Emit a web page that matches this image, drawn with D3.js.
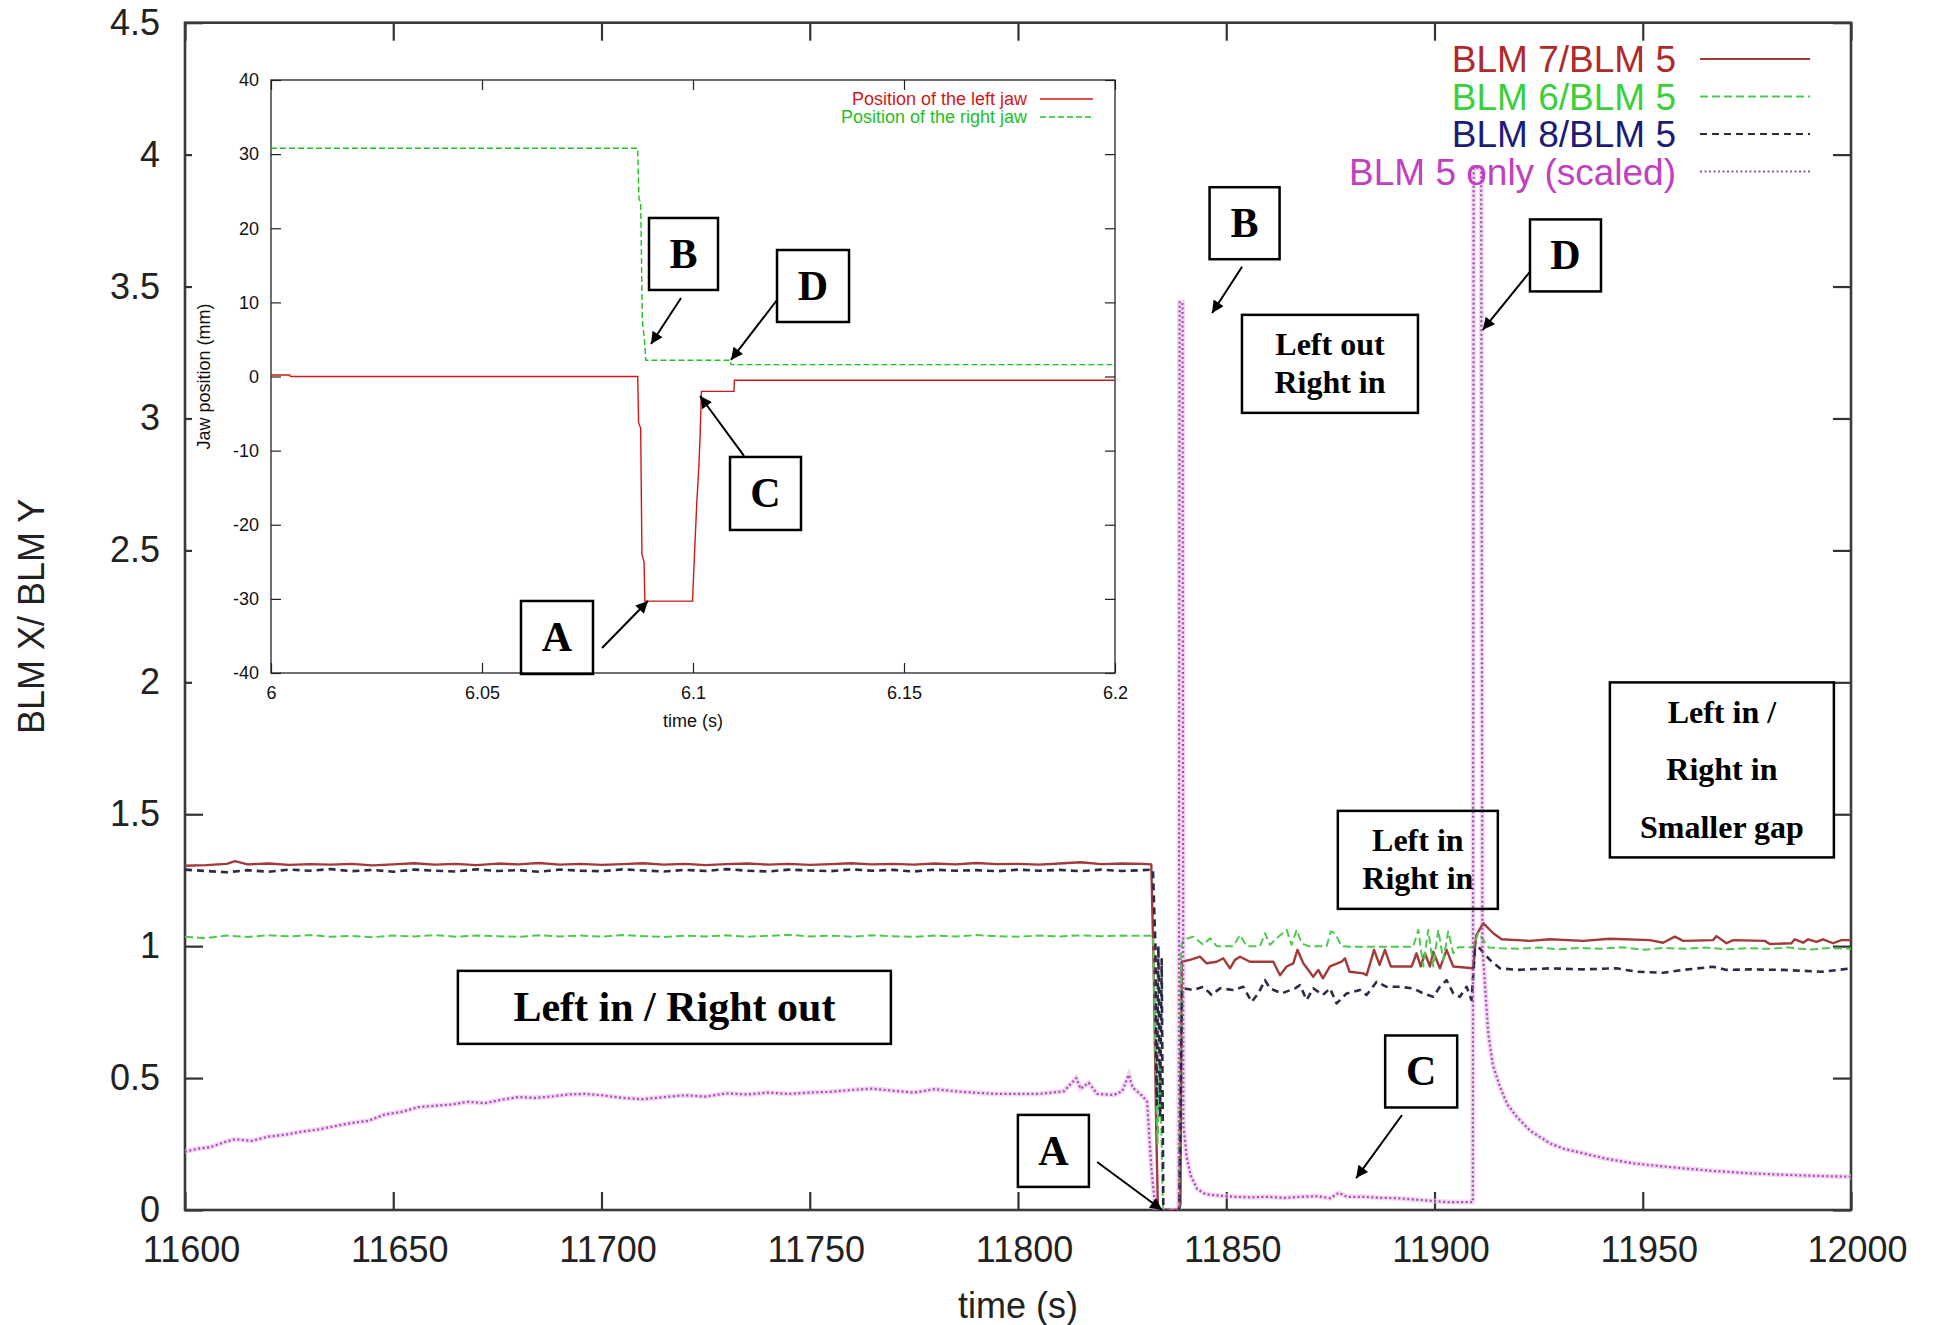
<!DOCTYPE html>
<html>
<head>
<meta charset="utf-8">
<script src="https://cdn.jsdelivr.net/npm/d3@7"></script>
<style>
  body { margin: 0; background: #fff; }
  svg { display: block; }
</style>
</head>
<body>
<div id="chart"></div>
<script>
// ---- main chart: ratios of beam loss monitors vs time (s) ----
var xTicks = [11600, 11650, 11700, 11750, 11800, 11850, 11900, 11950, 12000];
var yTicks = [0, 0.5, 1, 1.5, 2, 2.5, 3, 3.5, 4, 4.5];
var yTickLabels = ["0", "0.5", "1", "1.5", "2", "2.5", "3", "3.5", "4", "4.5"];

var blm7 = [[11600,1.305],[11605,1.307],[11610,1.312],[11612,1.322],[11615,1.31],[11620,1.313],[11625,1.308],[11630,1.311],[11635,1.309],[11640,1.312],[11645,1.306],[11650,1.31],[11655,1.314],[11660,1.309],[11665,1.312],[11670,1.307],[11675,1.313],[11680,1.31],[11685,1.315],[11690,1.309],[11695,1.312],[11700,1.308],[11705,1.311],[11710,1.314],[11715,1.309],[11720,1.312],[11725,1.307],[11730,1.311],[11735,1.313],[11740,1.309],[11745,1.312],[11750,1.308],[11755,1.311],[11760,1.314],[11765,1.31],[11770,1.312],[11775,1.309],[11780,1.313],[11785,1.31],[11790,1.315],[11795,1.311],[11800,1.312],[11805,1.309],[11810,1.313],[11815,1.318],[11820,1.311],[11825,1.313],[11830,1.312],[11832,1.31],[11832.6,0.9],[11833.2,0.3],[11833.6,0],[11838.6,0],[11839,0.02],[11839.3,0.941],
  [11841.3,0.948],[11843.7,0.96],[11845.3,0.935],[11847.7,0.941],[11849.3,0.954],[11850.9,0.916],[11852.1,0.948],[11853.3,0.96],[11855.7,0.941],[11861.3,0.941],[11862.9,0.89],[11864.5,0.923],[11866.1,0.935],[11867.1,0.986],[11868.5,0.935],[11870.9,0.884],[11872.1,0.91],[11873.2,0.878],[11874.9,0.923],[11877.7,0.941],[11878.5,0.954],[11879.6,0.903],[11882.9,0.897],[11883.7,0.89],[11885.5,0.986],[11886.8,0.929],[11888.1,0.986],[11889.5,0.923],[11894.5,0.923],[11895.7,0.973],[11896.7,0.923],[11897.7,0.973],[11898.9,0.923],[11899.7,0.979],[11901.3,0.916],[11902.9,0.986],[11904.5,0.923],[11909.3,0.916],[11910,1.04],
  [11911.7,1.087],[11914.1,1.049],[11916.1,1.026],[11922.9,1.02],[11927.7,1.026],[11935.7,1.02],[11942.1,1.028],[11951.7,1.023],[11954.9,1.013],[11957.7,1.036],[11959.7,1.02],[11966.9,1.023],[11967.7,1.038],[11970.1,1.011],[11971.7,1.023],[11979.3,1.02],[11980.5,1.008],[11985.7,1.011],[11986.5,1.026],[11988.5,1.013],[11989.7,1.026],[11991.7,1.016],[11993.3,1.026],[11995.7,1.011],[11997.7,1.023],[12000,1.023]];

var blm6 = [[11600,1.036],[11605,1.03],[11610,1.04],[11615,1.035],[11620,1.041],[11625,1.037],[11630,1.042],[11635,1.036],[11640,1.039],[11645,1.034],[11650,1.04],[11655,1.037],[11660,1.042],[11665,1.036],[11670,1.04],[11675,1.038],[11680,1.035],[11685,1.041],[11690,1.037],[11695,1.04],[11700,1.036],[11705,1.042],[11710,1.038],[11715,1.035],[11720,1.04],[11725,1.037],[11730,1.041],[11735,1.036],[11740,1.039],[11745,1.043],[11750,1.037],[11755,1.04],[11760,1.036],[11765,1.041],[11770,1.038],[11775,1.035],[11780,1.04],[11785,1.037],[11790,1.042],[11795,1.038],[11800,1.036],[11805,1.04],[11810,1.037],[11815,1.041],[11820,1.038],[11825,1.04],[11830,1.039],[11832.4,1.04],[11833,0.6],[11833.5,0.25],[11834.1,0.55],[11834.8,0],[11838.6,0],[11839.2,1.0],
  [11839.7,1.024],[11842.1,1.036],[11844.5,1.005],[11846.1,1.03],[11847.7,1.0],[11851.7,1.0],[11853.3,1.042],[11854.9,1.0],[11858.1,1.0],[11859.3,1.049],[11860.5,1.005],[11862.1,1.03],[11864.5,1.062],[11865.7,1.005],[11866.9,1.062],[11868.1,1.011],[11869.7,1.0],[11874.1,1.0],[11875.1,1.056],[11876.1,1.049],[11877.7,1.0],[11879.7,0.998],[11894.9,0.998],[11896.1,1.062],[11897.3,0.923],[11898.5,1.062],[11899.7,0.923],[11900.9,1.062],[11902.1,0.948],[11903.3,1.056],[11904.5,0.973],[11905.7,0.996],[11909.3,0.996],[11910.5,1.05],[11913,0.995],
  [11916,0.992],[11920,0.99],[11925,0.995],[11930,0.988],[11935,0.993],[11940,0.99],[11945,0.996],[11950,0.986],[11955,0.993],[11960,0.99],[11965,0.995],[11970,0.988],[11975,0.992],[11980,0.99],[11985,0.995],[11990,0.987],[11995,0.993],[12000,0.99]];

var blm8 = [[11600,1.29],[11605,1.285],[11610,1.28],[11615,1.288],[11620,1.282],[11625,1.29],[11630,1.286],[11635,1.292],[11640,1.284],[11645,1.289],[11650,1.282],[11655,1.29],[11660,1.286],[11665,1.283],[11670,1.291],[11675,1.285],[11680,1.288],[11685,1.282],[11690,1.29],[11695,1.286],[11700,1.284],[11705,1.291],[11710,1.287],[11715,1.283],[11720,1.289],[11725,1.285],[11730,1.292],[11735,1.286],[11740,1.283],[11745,1.29],[11750,1.287],[11755,1.284],[11760,1.291],[11765,1.286],[11770,1.289],[11775,1.283],[11780,1.29],[11785,1.286],[11790,1.288],[11795,1.284],[11800,1.29],[11805,1.286],[11810,1.289],[11815,1.284],[11820,1.29],[11825,1.285],[11830,1.288],[11832.4,1.29],[11833,1.0],[11833.3,0.4],[11833.7,1.0],[11834.1,0.35],[11834.5,0.95],[11834.9,0],[11838.7,0],[11839.4,0.84],
  [11839.7,0.84],[11842.1,0.834],[11844.5,0.846],[11846.5,0.815],[11848.5,0.84],[11851.7,0.834],[11854.1,0.846],[11856.1,0.789],[11857.7,0.821],[11859.3,0.871],[11860.5,0.84],[11863.3,0.821],[11866.5,0.84],[11867.7,0.852],[11869.3,0.796],[11870.9,0.84],[11873.2,0.815],[11874.9,0.84],[11876.5,0.783],[11878.9,0.821],[11882.1,0.834],[11883.7,0.815],[11886.1,0.865],[11888.5,0.846],[11891.7,0.846],[11894.9,0.84],[11897.3,0.821],[11899.7,0.808],[11901.3,0.846],[11902.9,0.871],[11904.5,0.821],[11906.1,0.808],[11907.7,0.846],[11908.9,0.796],[11909.7,0.986],[11910.5,0.998],
  [11913.3,0.948],[11915.7,0.916],[11919.7,0.91],[11927.7,0.916],[11935.7,0.912],[11943.7,0.916],[11948.5,0.903],[11954.9,0.899],[11959.7,0.91],[11966.9,0.922],[11970.1,0.91],[11975.7,0.912],[11983.7,0.91],[11993.3,0.903],[12000,0.916]];

var blm5 = [[11600,0.221],[11603,0.232],[11606,0.238],[11610,0.26],[11612,0.268],[11616,0.262],[11620,0.278],[11624,0.285],[11628,0.297],[11632,0.305],[11636,0.318],[11640,0.33],[11644,0.338],[11648,0.362],[11652,0.372],[11656,0.39],[11660,0.395],[11664,0.4],[11668,0.41],[11672,0.405],[11676,0.418],[11680,0.428],[11684,0.425],[11688,0.43],[11692,0.438],[11696,0.44],[11700,0.435],[11705,0.425],[11710,0.42],[11715,0.428],[11720,0.435],[11725,0.43],[11730,0.442],[11735,0.438],[11740,0.445],[11745,0.44],[11750,0.445],[11755,0.448],[11760,0.455],[11765,0.46],[11770,0.452],[11775,0.445],[11780,0.458],[11785,0.45],[11790,0.444],[11795,0.44],[11800,0.44],[11805,0.44],[11808,0.445],[11811,0.45],[11814,0.5],[11815,0.46],[11817,0.482],[11819,0.44],[11823,0.436],[11825,0.45],[11826.6,0.512],[11827.5,0.465],[11830,0.43],[11831,0.41],[11832,0.164],[11833,0],
  [11838.6,0],[11838.8,3.44],[11839.5,3.44],[11839.7,0.32],[11840.5,0.2],[11841.5,0.13],[11843,0.08],[11845,0.06],[11848,0.055],[11852,0.05],[11856,0.048],[11860,0.05],[11864,0.046],[11868,0.05],[11872,0.052],[11875,0.045],[11877,0.065],[11879,0.05],[11883,0.05],[11887,0.046],[11891,0.045],[11895,0.04],[11899,0.035],[11903,0.03],[11907,0.03],[11909.2,0.03],
  [11909.4,3.95],[11911.2,3.95],[11911.5,1.0],[11912.9,0.67],[11914,0.55],[11915.7,0.467],[11917.5,0.4],[11919.7,0.354],[11923,0.3],[11927.7,0.253],[11931,0.232],[11935.7,0.215],[11941,0.195],[11947.7,0.177],[11953,0.168],[11959.7,0.158],[11967,0.148],[11975.7,0.139],[11983,0.134],[11990,0.13],[11995,0.128],[12000,0.126]];

var seriesNames = ["BLM 7/BLM 5", "BLM 6/BLM 5", "BLM 8/BLM 5", "BLM 5 only (scaled)"];

// ---- inset: jaw positions (mm) vs time (s) ----
var insetXTicks  = [6, 6.05, 6.1, 6.15, 6.2];
var insetXLabels = ["6", "6.05", "6.1", "6.15", "6.2"];
var insetYTicks  = [-40, -30, -20, -10, 0, 10, 20, 30, 40];
var insetYLabels = ["-40", "-30", "-20", "-10", "0", "10", "20", "30", "40"];

var leftJaw = [[6,0.2],[6.0044,0.2],[6.0046,0],[6.0869,0],[6.0871,-6.2],[6.0876,-7],[6.0879,-24],[6.0884,-25],[6.0886,-30.3],[6.0999,-30.3],[6.1002,-26],[6.1009,-17],[6.1014,-12],[6.1017,-7.7],[6.102,-2.0],[6.1097,-2.0],[6.1098,-0.5],[6.2,-0.5]];
var rightJaw = [[6,30.8],[6.0869,30.8],[6.0872,24],[6.0876,23.5],[6.088,7.5],[6.0885,5],[6.0888,2.2],[6.1089,2.2],[6.109,1.6],[6.2,1.6]];
var jawNames = ["Position of the left jaw", "Position of the right jaw"];

// ---- annotations (positions in data units of each chart) ----
var mainNotes = [
  {t: 11854.4, v: 3.74,  w: 70,  h: 72,  lines: ["B"], size: 42},
  {t: 11931.45, v: 3.618, w: 71, h: 72,  lines: ["D"], size: 42},
  {t: 11896.8, v: 0.525, w: 72,  h: 72,  lines: ["C"], size: 42},
  {t: 11808.5, v: 0.224, w: 71,  h: 72,  lines: ["A"], size: 42},
  {t: 11874.9, v: 3.207, w: 176, h: 98,  lines: ["Left out", "Right in"], size: 32, lh: 38},
  {t: 11896.0, v: 1.327, w: 160, h: 98,  lines: ["Left in", "Right in"], size: 32, lh: 38},
  {t: 11969.0, v: 1.668, w: 224, h: 175, lines: ["Left in /", "Right in", "Smaller gap"], size: 32, lh: 57.6},
  {t: 11717.5, v: 0.768, w: 433, h: 73,  lines: ["Left in / Right out"], size: 42}
];
var mainArrows = [
  [11853.8, 3.575, 11846.6, 3.400],
  [11922.9, 3.556, 11911.6, 3.336],
  [11892.2, 0.360, 11881.2, 0.121],
  [11819.0, 0.182, 11834.6, 0.0]
];
var insetNotes = [
  {t: 6.09775, v: 16.53,  w: 69, h: 72, lines: ["B"], size: 42},
  {t: 6.12844, v: 12.21,  w: 72, h: 72, lines: ["D"], size: 42},
  {t: 6.11718, v: -15.78, w: 71, h: 73, lines: ["C"], size: 42},
  {t: 6.06777, v: -35.21, w: 72, h: 73, lines: ["A"], size: 42}
];
var insetArrows = [
  [6.09716, 10.59, 6.09005, 4.38],
  [6.11991, 10.32, 6.10900, 2.23],
  [6.11209, -10.72, 6.10166, -2.63],
  [6.07844, -36.63, 6.08934, -30.29]
];

var styles = [
  {color: "#a33a3a", text: "#b02a2a", width: 2.4, dash: null},
  {color: "#4ec94e", text: "#3ad03a", width: 2.0, dash: "8,4"},
  {color: "#2b2b45", text: "#1c1c78", width: 2.6, dash: "7,5"},
  {color: "#a04fae", text: "#c040c0", width: 2.2, dash: "2,2.5"}
];

var W = 1934, H = 1325;
var sansFont = '"Liberation Sans", Arial, Helvetica, sans-serif';
var serifFont = '"Liberation Serif", "Times New Roman", serif';

var svg = d3.select("#chart").append("svg").attr("width", W).attr("height", H);
svg.append("rect").attr("width", W).attr("height", H).attr("fill", "#fff");

var defs = svg.append("defs");
defs.append("marker").attr("id", "arrow")
  .attr("viewBox", "0 0 10 10").attr("refX", 10).attr("refY", 5)
  .attr("markerWidth", 16).attr("markerHeight", 12)
  .attr("markerUnits", "userSpaceOnUse").attr("orient", "auto")
  .append("path").attr("d", "M0,0 L10,5 L0,10 z").attr("fill", "#000");

// main scales
var plot = {left: 185, right: 1851, top: 22.7, bottom: 1210};
var x = d3.scaleLinear().domain([11600, 12000]).range([plot.left, plot.right]);
var y = d3.scaleLinear().domain([0, 4.5]).range([plot.bottom, plot.top]);

defs.append("clipPath").attr("id", "mainClip").append("rect")
  .attr("x", plot.left).attr("y", plot.top)
  .attr("width", plot.right - plot.left).attr("height", plot.bottom - plot.top);

function styleAxis(g, size, color) {
  g.select(".domain").remove();
  g.attr("font-size", size).attr("font-family", sansFont);
  g.selectAll("line").attr("stroke", "#333").attr("stroke-width", 2.2);
  g.selectAll("text").attr("fill", color);
}

// main axes (gnuplot style, inward ticks on all sides)
var gx = svg.append("g").attr("transform", "translate(0," + plot.bottom + ")")
  .call(d3.axisBottom(x).tickValues(xTicks).tickFormat(d3.format("d")).tickSize(-18).tickPadding(26));
styleAxis(gx, 36, "#222");
gx.selectAll("text").attr("dx", 6);

var gy = svg.append("g").attr("transform", "translate(" + plot.left + ",0)")
  .call(d3.axisLeft(y).tickValues(yTicks).tickFormat(function(d, i) { return yTickLabels[i]; }).tickSize(-18).tickPadding(25));
styleAxis(gy, 36, "#222");

var gt = svg.append("g").attr("transform", "translate(0," + plot.top + ")")
  .call(d3.axisTop(x).tickValues(xTicks).tickFormat("").tickSize(-18));
styleAxis(gt, 36, "#222");
var gr = svg.append("g").attr("transform", "translate(" + plot.right + ",0)")
  .call(d3.axisRight(y).tickValues(yTicks).tickFormat("").tickSize(-18));
styleAxis(gr, 36, "#222");

svg.append("rect")
  .attr("x", plot.left).attr("y", plot.top)
  .attr("width", plot.right - plot.left).attr("height", plot.bottom - plot.top)
  .attr("fill", "none").attr("stroke", "#3a3a3a").attr("stroke-width", 2.6);

svg.append("text")
  .attr("x", (plot.left + plot.right) / 2).attr("y", 1318)
  .attr("text-anchor", "middle").attr("font-family", sansFont).attr("font-size", 36).attr("fill", "#222")
  .text("time (s)");
svg.append("text")
  .attr("transform", "translate(44," + ((plot.top + plot.bottom) / 2) + ") rotate(-90)")
  .attr("text-anchor", "middle").attr("font-family", sansFont).attr("font-size", 36).attr("fill", "#222")
  .text("BLM X/ BLM Y");

// main series
var mainLine = d3.line().x(function(d) { return x(d[0]); }).y(function(d) { return y(d[1]); });
var lines = svg.append("g").attr("clip-path", "url(#mainClip)");
var allSeries = [blm7, blm6, blm8, blm5];

// pale halo under the BLM 5 curve, as in the scanned figure
lines.append("path").datum(blm5).attr("d", mainLine)
  .attr("fill", "none").attr("stroke", "#f0c6f0").attr("stroke-width", 5).attr("opacity", 0.7);

allSeries.forEach(function(s, i) {
  var st = styles[i];
  lines.append("path").datum(s).attr("d", mainLine)
    .attr("fill", "none").attr("stroke", st.color).attr("stroke-width", st.width)
    .attr("stroke-linejoin", "round")
    .attr("stroke-dasharray", st.dash);
});

// legend
var legend = svg.append("g").attr("font-family", sansFont).attr("font-size", 37);
seriesNames.forEach(function(name, i) {
  var cy = 59 + i * 37.5;
  legend.append("text").attr("x", 1676).attr("y", cy + 13)
    .attr("text-anchor", "end").attr("fill", styles[i].text).text(name);
  legend.append("line").attr("x1", 1700).attr("x2", 1810).attr("y1", cy).attr("y2", cy)
    .attr("stroke", i === 3 ? "#8a5a95" : styles[i].color).attr("stroke-width", 2.2)
    .attr("stroke-dasharray", styles[i].dash);
});

// ---- inset ----
var ip = {left: 271, right: 1115, top: 80, bottom: 673};
var ix = d3.scaleLinear().domain([6, 6.2]).range([ip.left, ip.right]);
var iy = d3.scaleLinear().domain([-40, 40]).range([ip.bottom, ip.top]);

svg.append("rect").attr("x", 192).attr("y", 66).attr("width", 932).attr("height", 672).attr("fill", "#fff");

var ig = svg.append("g");
var igx = ig.append("g").attr("transform", "translate(0," + ip.bottom + ")")
  .call(d3.axisBottom(ix).tickValues(insetXTicks).tickFormat(function(d, i) { return insetXLabels[i]; }).tickSize(-10).tickPadding(13));
styleAxis(igx, 18, "#111");
var igy = ig.append("g").attr("transform", "translate(" + ip.left + ",0)")
  .call(d3.axisLeft(iy).tickValues(insetYTicks).tickFormat(function(d, i) { return insetYLabels[i]; }).tickSize(-10).tickPadding(12));
styleAxis(igy, 18, "#111");
var igt = ig.append("g").attr("transform", "translate(0," + ip.top + ")")
  .call(d3.axisTop(ix).tickValues(insetXTicks).tickFormat("").tickSize(-10));
styleAxis(igt, 18, "#111");
var igr = ig.append("g").attr("transform", "translate(" + ip.right + ",0)")
  .call(d3.axisRight(iy).tickValues(insetYTicks).tickFormat("").tickSize(-10));
styleAxis(igr, 18, "#111");
ig.selectAll("line").attr("stroke-width", 1.2).attr("stroke", "#222");

ig.append("rect")
  .attr("x", ip.left).attr("y", ip.top)
  .attr("width", ip.right - ip.left).attr("height", ip.bottom - ip.top)
  .attr("fill", "none").attr("stroke", "#222").attr("stroke-width", 1.3);

ig.append("text").attr("x", (ip.left + ip.right) / 2).attr("y", 727)
  .attr("text-anchor", "middle").attr("font-family", sansFont).attr("font-size", 18).attr("fill", "#111")
  .text("time (s)");
ig.append("text").attr("transform", "translate(210," + iy(0) + ") rotate(-90)")
  .attr("text-anchor", "middle").attr("font-family", sansFont).attr("font-size", 18).attr("fill", "#111")
  .text("Jaw position (mm)");

var insetLine = d3.line().x(function(d) { return ix(d[0]); }).y(function(d) { return iy(d[1]); });
var jawStyles = [
  {color: "#d01818", dash: null},
  {color: "#22c022", dash: "6,3"}
];
[leftJaw, rightJaw].forEach(function(s, i) {
  ig.append("path").datum(s).attr("d", insetLine)
    .attr("fill", "none").attr("stroke", jawStyles[i].color).attr("stroke-width", 1.4)
    .attr("stroke-dasharray", jawStyles[i].dash);
});

jawNames.forEach(function(name, i) {
  var cy = 99 + i * 18;
  ig.append("text").attr("x", 1027).attr("y", cy + 6)
    .attr("text-anchor", "end").attr("font-family", sansFont).attr("font-size", 18)
    .attr("fill", jawStyles[i].color).text(name);
  ig.append("line").attr("x1", 1040).attr("x2", 1093).attr("y1", cy).attr("y2", cy)
    .attr("stroke", jawStyles[i].color).attr("stroke-width", 1.4)
    .attr("stroke-dasharray", jawStyles[i].dash);
});

// ---- annotation boxes and arrows ----
function drawNotes(notes, arrows, sx, sy) {
  var g = svg.append("g");
  notes.forEach(function(n) {
    var cx = sx(n.t), cy = sy(n.v);
    g.append("rect").attr("x", cx - n.w / 2).attr("y", cy - n.h / 2)
      .attr("width", n.w).attr("height", n.h)
      .attr("fill", "none").attr("stroke", "#000").attr("stroke-width", 2.5);
    var k = n.lines.length, lh = n.lh || 0;
    n.lines.forEach(function(txt, j) {
      g.append("text")
        .attr("x", cx)
        .attr("y", cy + (j - (k - 1) / 2) * lh + 0.33 * n.size)
        .attr("text-anchor", "middle")
        .attr("font-family", serifFont).attr("font-weight", "bold")
        .attr("font-size", n.size).attr("fill", "#000")
        .text(txt);
    });
  });
  arrows.forEach(function(a) {
    g.append("line")
      .attr("x1", sx(a[0])).attr("y1", sy(a[1]))
      .attr("x2", sx(a[2])).attr("y2", sy(a[3]))
      .attr("stroke", "#000").attr("stroke-width", 2)
      .attr("marker-end", "url(#arrow)");
  });
}
drawNotes(insetNotes, insetArrows, ix, iy);
drawNotes(mainNotes, mainArrows, x, y);
</script>
</body>
</html>
